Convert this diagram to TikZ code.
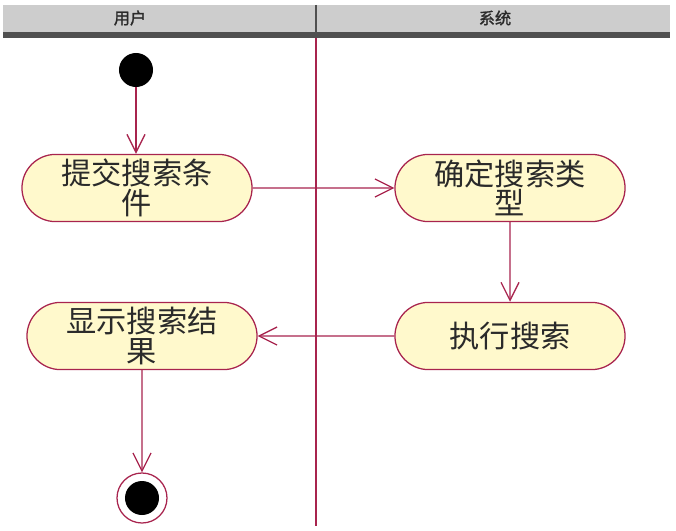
\documentclass[tikz,border=0pt]{standalone}
\usepackage{fontspec}
\newfontfamily\cjk{Noto Sans CJK SC}
\newfontfamily\cjkhead[FakeBold=1.5]{Noto Sans CJK SC}
\usetikzlibrary{arrows.meta, shapes.misc}
\definecolor{laneline}{HTML}{A8244E}
\definecolor{actfill}{HTML}{FFF9CC}
\definecolor{headgray}{HTML}{CDCDCD}
\definecolor{headdark}{HTML}{505050}
\definecolor{inktext}{HTML}{2A2A2A}
\newcommand{\actbox}[3]{%
  \node[draw=laneline, line width=0.9pt, rounded rectangle, fill=actfill,
        minimum width=5.75cm, minimum height=1.68cm, align=center, inner sep=0pt,
        text=inktext, font=\cjk\fontsize{21.5}{21}\selectfont] (#1) at (#2) {#3};}

\begin{document}
\begin{tikzpicture}[x=0.025cm, y=-0.025cm,
    flow/.style={-{Straight Barb[length=4.5mm, width=4.5mm]}, laneline, line width=0.9pt}]
      \useasboundingbox (0,0) rectangle (676,531);
      % swimlane header
      \fill[headgray] (3,5) rectangle (670,33);
      \fill[headdark] (3,32) rectangle (670,38);
      \draw[headdark, line width=1.2pt] (316,5) -- (316,38);
      \node[font=\cjkhead\fontsize{11.5}{11.5}\selectfont, text=inktext] (user) at (130,18) {用户};
      \node[font=\cjkhead\fontsize{11.5}{11.5}\selectfont, text=inktext] (sys) at (495,18) {系统};
      \draw[laneline, line width=1pt] (316,38) -- (316,526);
      % start and end
      \node[circle, fill=black, minimum size=0.85cm, inner sep=0pt] (start) at (136,70) {};
      \node[circle, draw=laneline, line width=0.9pt, fill=white, minimum size=1.25cm] (stop) at (142,498) {};
      \node[circle, fill=black, minimum size=0.85cm, inner sep=0pt] (stopdot) at (stop) {};
      % actions
      \actbox{submit}{137,188}{提交搜索条\\件}
      \actbox{decide}{510,188}{确定搜索类\\型}
      \actbox{run}{510,336}{执行搜索}
      \actbox{show}{142,336}{显示搜索结\\果}
      \draw[flow] (start) -- (start |- submit.north);
      \draw[flow] (submit) -- (decide);
      \draw[flow] (decide) -- (run);
      \draw[flow] (run) -- (show);
      \draw[flow] (show) -- (stop);
    \end{tikzpicture}
\end{document}
